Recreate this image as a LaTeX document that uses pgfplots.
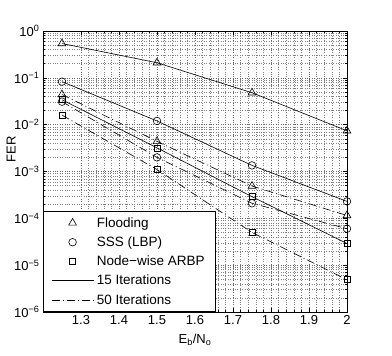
\documentclass[border=0pt]{standalone}
\usepackage{pgfplots}
\pgfplotsset{compat=1.18}
\usepackage{fontspec}
\setmainfont{Liberation Sans}
\pgfplotsset{
  mylinelegend/.style={legend image code/.code={\draw[##1] (0pt,0pt) -- (42pt,0pt);}},
  mymarklegend/.style={legend image code/.code={\draw[##1] plot coordinates {(21pt,0pt)};}},
}
\begin{document}
\begin{tikzpicture}
\useasboundingbox (-43pt,-44pt) rectangle (349pt,312pt);
\begin{axis}[
  scale only axis,
  width=304pt, height=281pt,
  ymode=log,
  xmin=1.2, xmax=2,
  ymin=1e-6, ymax=1,
  xtick={1.3,1.4,1.5,1.6,1.7,1.8,1.9,2},
  xticklabels={1.3,1.4,1.5,1.6,1.7,1.8,1.9,2},
  minor x tick num=4,
  ytick={1e-6,1e-5,1e-4,1e-3,1e-2,1e-1,1},
  yticklabels={10\textsuperscript{−6},10\textsuperscript{−5},10\textsuperscript{−4},10\textsuperscript{−3},10\textsuperscript{−2},10\textsuperscript{−1},10\textsuperscript{0}},
  minor ytick={2e-6,3e-6,4e-6,5e-6,6e-6,7e-6,8e-6,9e-6,
               2e-5,3e-5,4e-5,5e-5,6e-5,7e-5,8e-5,9e-5,
               2e-4,3e-4,4e-4,5e-4,6e-4,7e-4,8e-4,9e-4,
               2e-3,3e-3,4e-3,5e-3,6e-3,7e-3,8e-3,9e-3,
               2e-2,3e-2,4e-2,5e-2,6e-2,7e-2,8e-2,9e-2,
               2e-1,3e-1,4e-1,5e-1,6e-1,7e-1,8e-1,9e-1},
  grid=both,
  major grid style={dotted, black!60, line width=0.5pt},
  minor grid style={dotted, black!50, line width=0.5pt},
  tick align=inside,
  major tick length=4pt,
  minor tick length=2pt,
  tick style={black, line width=0.5pt},
  axis line style={black, line width=0.6pt},
  ticklabel style={font=\fontsize{13}{15}\selectfont},
  /pgf/number format/assume math mode=true,
  xlabel={E\textsubscript{b}/N\textsubscript{o}},
  ylabel={FER},
  label style={font=\fontsize{13}{15}\selectfont},
  xlabel style={at={(axis description cs:0.5,-0.1)}, anchor=center},
  ylabel style={at={(axis description cs:-0.105,0.58)}, anchor=center},
  legend style={at={(0,0)}, anchor=south west, draw=black, fill=white,
    font=\fontsize{13.5}{15}\selectfont, inner xsep=8pt, inner ysep=4pt,
    row sep=4pt, line width=0.6pt,
    nodes={inner xsep=3pt}},
  legend cell align=left,
  mylinelegend,
  every axis plot/.append style={line width=0.6pt, black},
]
\addlegendimage{only marks, mark=triangle, mark size=4.5pt, mymarklegend}
\addlegendentry{Flooding}
\addlegendimage{only marks, mark=o, mark size=3.8pt, mymarklegend}
\addlegendentry{SSS (LBP)}
\addlegendimage{only marks, mark=square, mark size=3pt, mymarklegend}
\addlegendentry{Node−wise ARBP}
\addlegendimage{solid, mylinelegend}
\addlegendentry{15 Iterations}
\addlegendimage{dash pattern=on 8pt off 3pt on 1pt off 3pt, mylinelegend}
\addlegendentry{50 Iterations}

% 15 iterations (solid)
\addplot[solid, mark=triangle, mark size=4.5pt, forget plot] coordinates {(1.25,0.54)(1.5,0.21)(1.75,0.048)(2,0.0074)};
\addplot[solid, mark=o, mark size=3.8pt, forget plot] coordinates {(1.25,0.083)(1.5,0.012)(1.75,0.00135)(2,2.3e-4)};
\addplot[solid, mark=square, mark size=3pt, forget plot] coordinates {(1.25,0.034)(1.5,0.0032)(1.75,2.9e-4)(2,2.9e-5)};
% 50 iterations (dash-dot)
\addplot[dash pattern=on 8pt off 3pt on 1pt off 3pt, mark=triangle, mark size=4.5pt, mark options={solid}, forget plot] coordinates {(1.25,0.044)(1.5,0.0044)(1.75,4.9e-4)(2,1.15e-4)};
\addplot[dash pattern=on 8pt off 3pt on 1pt off 3pt, mark=o, mark size=3.8pt, mark options={solid}, forget plot] coordinates {(1.25,0.031)(1.5,0.002)(1.75,2.1e-4)(2,6e-5)};
\addplot[dash pattern=on 8pt off 3pt on 1pt off 3pt, mark=square, mark size=3pt, mark options={solid}, forget plot] coordinates {(1.25,0.016)(1.5,0.0011)(1.75,5e-5)(2,4.9e-6)};
\end{axis}
\end{tikzpicture}
\end{document}
